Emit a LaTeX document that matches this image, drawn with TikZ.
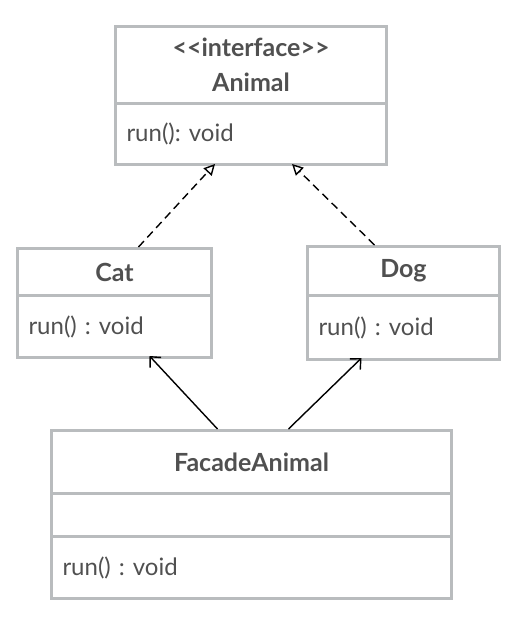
\documentclass[tikz,border=0pt]{standalone}
\usepackage{fontspec}
\setmainfont{Lato}
\usepackage{xcolor}
\usetikzlibrary{arrows.meta,calc}
\definecolor{boxgray}{HTML}{B9BCBE}
\definecolor{txtgray}{HTML}{505050}
\tikzset{
  HD/.style={draw=boxgray, line width=3pt, anchor=north west, inner sep=0pt,
             align=center, font=\fontsize{25}{35}\selectfont\bfseries,
             text=txtgray},
  BD/.style={draw=boxgray, line width=3pt, anchor=north west, inner ysep=0pt,
             inner xsep=11pt, align=left,
             font=\fontsize{24}{28}\selectfont\frenchspacing, text=txtgray},
  RA/.style={-{Triangle[open, length=11pt, width=11pt]}, line width=1.4pt,
             dash pattern=on 8pt off 5pt},
  UA/.style={-{Straight Barb[length=8pt, width=15pt]}, line width=1.4pt}
}

\begin{document}
\begin{tikzpicture}[x=1pt, y=-1pt]
\useasboundingbox (0,0) rectangle (522,618);

% ---- interface Animal ----
\node[HD, minimum width=271pt, minimum height=77pt] (AH) at (114,25)
    {<{}<interface>{}>\\Animal};
\node[BD, text width=249pt, minimum height=61pt] (AB) at (114,102)
    {run(): void};

% ---- Cat / Dog ----
\node[HD, minimum width=194pt, minimum height=47pt] (CH) at (16,247) {Cat};
\node[BD, text width=172pt, minimum height=62pt] (CB) at (16,294)
    {run() : void};

\node[HD, minimum width=192pt, minimum height=49pt] (DH) at (306,245) {Dog};
\node[BD, text width=170pt, minimum height=64pt] (DB) at (306,294)
    {run() : void};

% ---- FacadeAnimal ----
\node[HD, minimum width=400pt, minimum height=63pt] (FH) at (50,429)
    {FacadeAnimal};
\node[HD, minimum width=400pt, minimum height=43pt] (FM) at (50,492) {};
\node[BD, text width=378pt, minimum height=62pt] (FB) at (50,535)
    {run() : void};

% ---- realisation ----
\draw[RA] ($(CH.north)+(24,0)$) -- ($(AB.south)+(-36,-2)$);
\draw[RA] ($(DH.north)+(-29,0)$) -- ($(AB.south)+(41,-2)$);

% ---- uses ----
\draw[UA] ($(FH.north)+(-34,0)$) -- ($(CB.south)+(35,-3)$);
\draw[UA] ($(FH.north)+(37,0)$) -- ($(DB.south)+(-42,-3)$);

\end{tikzpicture}
\end{document}
